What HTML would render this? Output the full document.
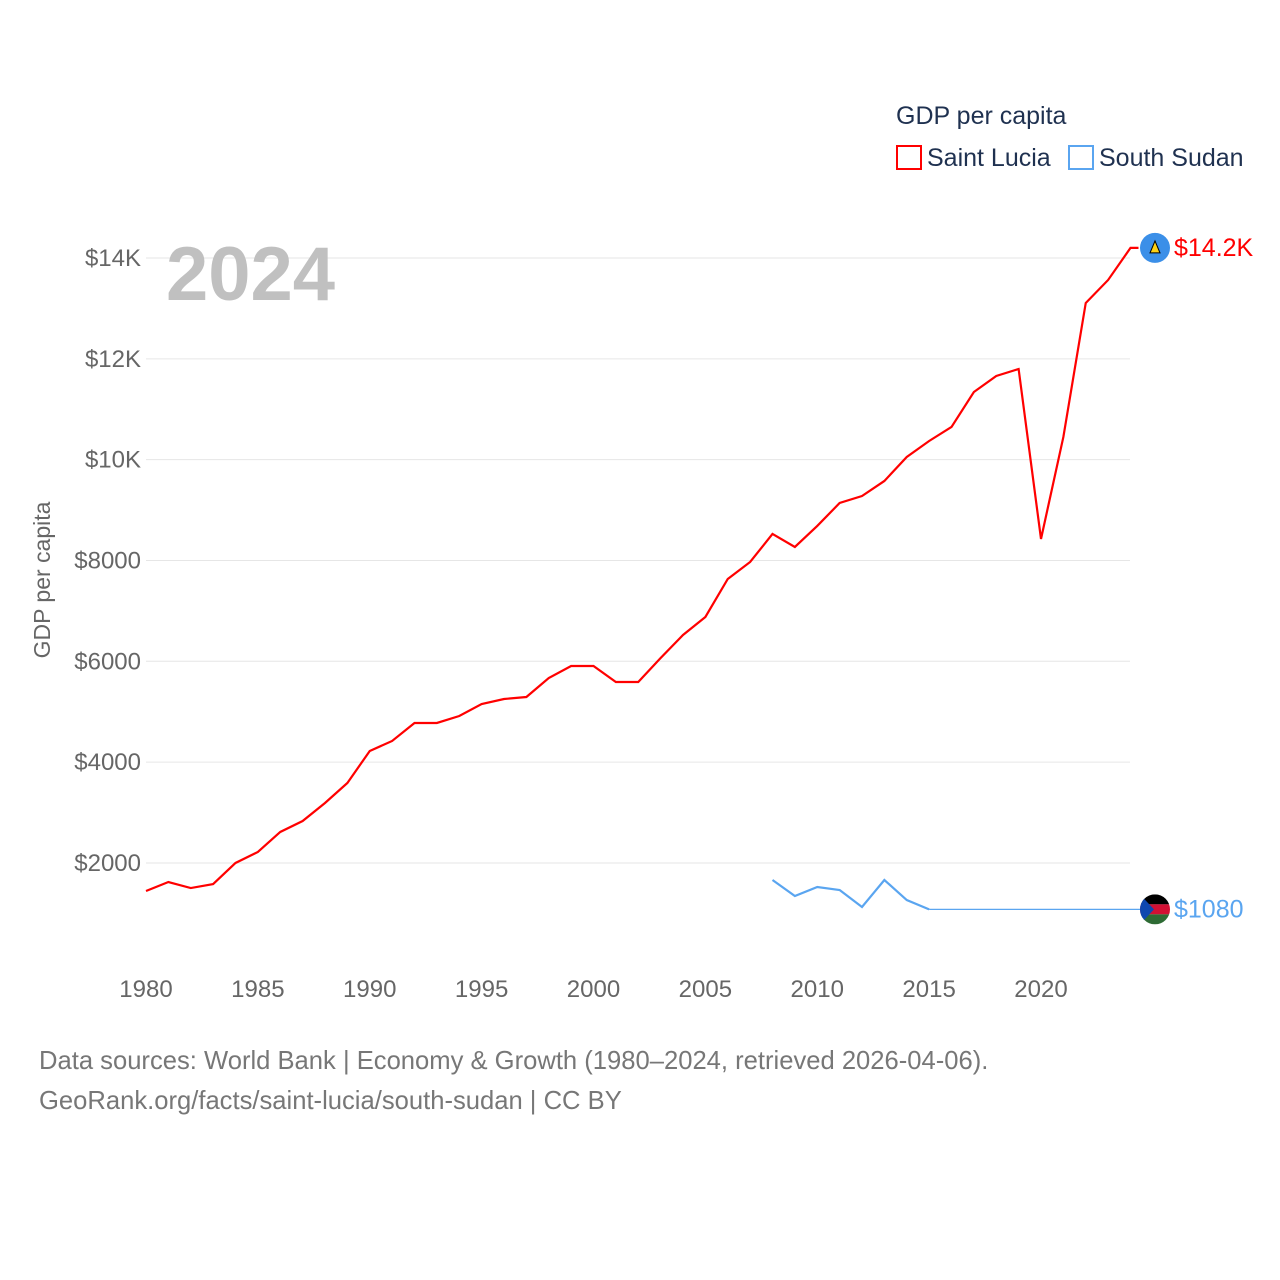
<!DOCTYPE html>
<html><head><meta charset="utf-8">
<style>
body{margin:0;background:#fff;}
svg{display:block;font-family:"Liberation Sans",sans-serif;}
</style></head>
<body>
<svg id="chart" width="1280" height="1280" viewBox="0 0 1280 1280">
<text x="896" y="124" font-size="25" fill="#1f3150">GDP per capita</text>
<g>
<rect x="897" y="146" width="24" height="23" fill="none" stroke="#f00" stroke-width="2"/>
<text x="927" y="166" font-size="25" fill="#1f3150">Saint Lucia</text></g>
<g>
<rect x="1069" y="146" width="24" height="23" fill="none" stroke="#5aa5f0" stroke-width="2"/>
<text x="1099" y="166" font-size="25" fill="#1f3150">South Sudan</text></g>
<g id="grid"></g>
<g id="yticks"></g>
<g id="xticks"></g>
<text x="166" y="300" font-size="76" font-weight="bold" fill="#c0c0c0">2024</text>
<text transform="translate(50,580) rotate(-90)" text-anchor="middle" font-size="23" fill="#666">GDP per capita</text>
<g id="series"></g>
<text x="39" y="1069" font-size="25.6" fill="#777">Data sources: World Bank | Economy &amp; Growth (1980–2024, retrieved 2026-04-06).</text>
<text x="39" y="1109" font-size="25.6" fill="#777">GeoRank.org/facts/saint-lucia/south-sudan | CC BY</text>
</svg>
<script>
const years = [];
for (let y = 1980; y <= 2024; y++) years.push(y);
const stLucia = [1444,1622,1503,1582,2000,2218,2615,2832,3190,3587,4221,4420,4777,4777,4915,5153,5252,5292,5669,5907,5907,5590,5590,6066,6522,6879,7633,7970,8526,8268,8685,9140,9279,9577,10053,10370,10648,11342,11659,11798,8427,10450,13108,13564,14200];
const ssYears = [2008,2009,2010,2011,2012,2013,2014,2015];
const southSudan = [1662,1345,1523,1464,1127,1662,1265,1080];
const ssLatest = 1080;
const yTicks = [2000,4000,6000,8000,10000,12000,14000];
const yTickLabels = ["$2000","$4000","$6000","$8000","$10K","$12K","$14K"];
const xTicks = [1980,1985,1990,1995,2000,2005,2010,2015,2020];

const NS = "http://www.w3.org/2000/svg";
const xs = y => 146 + (y - 1980) * 22.375;
const ys = v => 963.8 - v / 2000 * 100.83;
function mk(tag, attrs, parent){const e=document.createElementNS(NS,tag);for(const k in attrs)e.setAttribute(k,attrs[k]);parent.appendChild(e);return e;}
const grid=document.getElementById('grid'), yt=document.getElementById('yticks'), xt=document.getElementById('xticks'), ser=document.getElementById('series');
yTicks.forEach((v,i)=>{
  const l=mk('line',{x1:146,x2:1130,y1:ys(v),y2:ys(v),stroke:'#e6e6e6','stroke-width':1},grid);
  
  
  const t=mk('text',{x:141,y:ys(v)+8,'text-anchor':'end','font-size':24,fill:'#666'},yt);
  t.textContent=yTickLabels[i];
  
  
});
xTicks.forEach(v=>{
  const t=mk('text',{x:xs(v),y:997,'text-anchor':'middle','font-size':24,fill:'#666'},xt);
  t.textContent=v;
  
  
});
const slPts=years.map((y,i)=>xs(y)+','+ys(stLucia[i])).join(' ')+' '+(xs(2024)+8)+','+ys(stLucia[stLucia.length-1]);
const sl=mk('polyline',{points:slPts,fill:'none',stroke:'#f00','stroke-width':2.2},ser);


const ssPts=ssYears.map((y,i)=>xs(y)+','+ys(southSudan[i])).join(' ');
const ss=mk('polyline',{points:ssPts,fill:'none',stroke:'#5aa5f0','stroke-width':2.2},ser);


const ext=mk('line',{x1:xs(ssYears[ssYears.length-1]),y1:ys(southSudan[southSudan.length-1]),x2:1140,y2:ys(ssLatest),stroke:'#5aa5f0','stroke-width':1.2},ser);


const slY=ys(stLucia[stLucia.length-1]);
const m1=mk('circle',{cx:1155,cy:slY,r:15,fill:'#3b8fe8'},ser);


mk('polygon',{points:`1155,${slY-7} 1150,${slY+5} 1160,${slY+5}`,fill:'#fcd116',stroke:'#000','stroke-width':1},ser);
const l1=mk('text',{x:1174,y:slY+8,'font-size':25,fill:'#f00'},ser);
l1.textContent='$14.2K';


const ssY=ys(ssLatest);
const g=mk('g',{},ser);


mk('clipPath',{id:'cp'},g).appendChild(document.createElementNS(NS,'circle'));
const cpc=g.querySelector('clipPath circle');cpc.setAttribute('cx',1155);cpc.setAttribute('cy',ssY);cpc.setAttribute('r',15);
const fg=mk('g',{'clip-path':'url(#cp)'},g);
mk('rect',{x:1140,y:ssY-15,width:30,height:10,fill:'#000'},fg);
mk('rect',{x:1140,y:ssY-5,width:30,height:10,fill:'#d21034'},fg);
mk('rect',{x:1140,y:ssY+5,width:30,height:10,fill:'#2e6b34'},fg);
mk('polygon',{points:`1140,${ssY-15} 1154,${ssY} 1140,${ssY+15}`,fill:'#0f47af'},fg);
const l2=mk('text',{x:1174,y:ssY+8,'font-size':25,fill:'#5aa5f0'},ser);
l2.textContent='$1080';


</script>
</body></html>
